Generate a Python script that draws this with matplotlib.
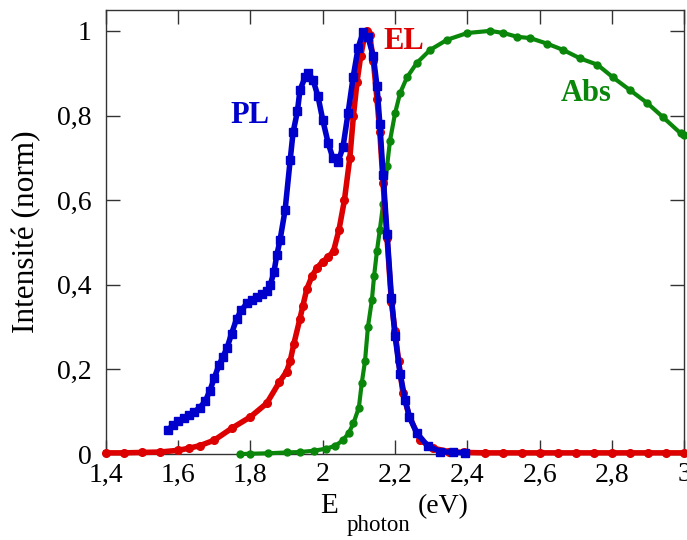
import matplotlib.pyplot as plt
import numpy as np

plt.rcParams['font.family'] = ['Liberation Serif', 'DejaVu Serif']

# EL (red)
el_x = [1.40, 1.45, 1.50, 1.55, 1.60, 1.63, 1.66, 1.70, 1.75, 1.80, 1.845, 1.88, 1.90, 1.91,
        1.92, 1.937, 1.945, 1.956, 1.97, 1.984, 2.00, 2.015, 2.03, 2.045, 2.06, 2.075, 2.085,
        2.095, 2.105, 2.115, 2.122, 2.13, 2.14, 2.15, 2.158, 2.167, 2.178, 2.19, 2.20, 2.21,
        2.222, 2.24, 2.27, 2.305, 2.35, 2.39, 2.45, 2.50, 2.55, 2.60, 2.65, 2.70, 2.75, 2.80,
        2.85, 2.90, 2.95, 3.00]
el_y = [0.003, 0.003, 0.004, 0.005, 0.009, 0.014, 0.02, 0.033, 0.062, 0.088, 0.12, 0.17, 0.195,
        0.22, 0.26, 0.32, 0.35, 0.39, 0.42, 0.44, 0.455, 0.465, 0.48, 0.53, 0.60, 0.70, 0.80,
        0.88, 0.94, 0.985, 1.0, 0.99, 0.93, 0.84, 0.76, 0.64, 0.51, 0.36, 0.29, 0.22, 0.144,
        0.088, 0.033, 0.014, 0.006, 0.004, 0.003, 0.003, 0.003, 0.003, 0.003, 0.003, 0.003,
        0.003, 0.003, 0.003, 0.003, 0.003]

# PL (blue)
pl_x = [1.572, 1.585, 1.60, 1.615, 1.63, 1.645, 1.66, 1.675, 1.688, 1.70, 1.713, 1.724, 1.735,
        1.748, 1.762, 1.775, 1.79, 1.805, 1.818, 1.832, 1.845, 1.855, 1.865, 1.873, 1.882,
        1.896, 1.91, 1.918, 1.93, 1.937, 1.951, 1.96, 1.973, 1.987, 2.0, 2.015, 2.028, 2.042,
        2.056, 2.07, 2.084, 2.098, 2.112, 2.125, 2.14, 2.15, 2.158, 2.167, 2.178, 2.19, 2.20,
        2.214, 2.228, 2.24, 2.26, 2.29, 2.325, 2.36, 2.394]
pl_y = [0.057, 0.068, 0.078, 0.085, 0.092, 0.10, 0.11, 0.125, 0.15, 0.18, 0.21, 0.23, 0.25,
        0.285, 0.32, 0.34, 0.356, 0.365, 0.372, 0.378, 0.385, 0.40, 0.43, 0.47, 0.506, 0.577,
        0.695, 0.76, 0.81, 0.86, 0.89, 0.90, 0.885, 0.845, 0.79, 0.735, 0.70, 0.69, 0.725,
        0.805, 0.89, 0.96, 0.998, 0.986, 0.94, 0.87, 0.78, 0.66, 0.52, 0.37, 0.28, 0.19,
        0.128, 0.088, 0.05, 0.02, 0.006, 0.004, 0.003]

# Abs (green)
ab_x = [1.771, 1.80, 1.85, 1.90, 1.937, 1.975, 2.01, 2.035, 2.056, 2.072, 2.085, 2.10, 2.108,
        2.117, 2.125, 2.136, 2.142, 2.15, 2.158, 2.167, 2.178, 2.186, 2.20, 2.214, 2.233,
        2.26, 2.297, 2.344, 2.40, 2.463, 2.50, 2.538, 2.574, 2.62, 2.665, 2.712, 2.76,
        2.803, 2.85, 2.897, 2.94, 2.99, 3.0]
ab_y = [0.0, 0.001, 0.002, 0.004, 0.005, 0.008, 0.013, 0.02, 0.033, 0.05, 0.073, 0.11, 0.168,
        0.22, 0.30, 0.364, 0.42, 0.48, 0.53, 0.59, 0.68, 0.74, 0.805, 0.853, 0.89, 0.924,
        0.955, 0.979, 0.995, 1.0, 0.995, 0.986, 0.983, 0.97, 0.955, 0.935, 0.92, 0.89, 0.86,
        0.83, 0.797, 0.758, 0.755]

x_ticks = [1.4, 1.6, 1.8, 2.0, 2.2, 2.4, 2.6, 2.8, 3.0]
x_labels = ['1,4', '1,6', '1,8', '2', '2,2', '2,4', '2,6', '2,8', '3']
y_ticks = [0, 0.2, 0.4, 0.6, 0.8, 1.0]
y_labels = ['0', '0,2', '0,4', '0,6', '0,8', '1']

red = '#dd0000'
blue = '#0000cc'
green = '#0a870a'

fig = plt.figure(figsize=(6.87, 5.40), dpi=100)
ax = fig.add_axes([0.154, 0.159, 0.842, 0.823])

ax.plot(ab_x, ab_y, color=green, lw=3, marker='o', ms=5, mec=green, clip_on=False, zorder=3)
ax.plot(el_x, el_y, color=red, lw=4, marker='o', ms=5.5, mec=red, clip_on=False, zorder=4)
ax.plot(pl_x, pl_y, color=blue, lw=4, marker='s', ms=6, mec=blue, clip_on=False, zorder=5)

ax.set_xlim(1.4, 3.0)
ax.set_ylim(0, 1.05)
ax.set_xticks(x_ticks)
ax.set_xticklabels(x_labels)
ax.set_yticks(y_ticks)
ax.set_yticklabels(y_labels)
ax.tick_params(direction='in', length=10, width=1, color='#333333', labelsize=20,
               top=True, right=True)
ax.tick_params(axis='y', pad=10)
ax.tick_params(axis='x', pad=6)
for s in ax.spines.values():
    s.set_color('#333333')
    s.set_linewidth(1)

ax.set_ylabel('Intensité (norm)', fontsize=22.5)
ax.yaxis.set_label_coords(-0.112, 0.5)

# x label: E with a low subscript, then (eV)
fig.text(0.4658, 0.05, 'E', fontsize=21, va='baseline', ha='left')
fig.text(0.505, 0.0167, 'photon', fontsize=16.5, va='baseline', ha='left')
fig.text(0.6084, 0.05, '(eV)', fontsize=20, va='baseline', ha='left')

ax.text(1.80, 0.80, 'PL', color=blue, fontsize=22, fontweight='bold', ha='center', va='center')
ax.text(2.225, 0.974, 'EL', color=red, fontsize=22, fontweight='bold', ha='center', va='center')
ax.text(2.729, 0.851, 'Abs', color=green, fontsize=22, fontweight='bold', ha='center', va='center')

fig.savefig('out.png', dpi=100)
